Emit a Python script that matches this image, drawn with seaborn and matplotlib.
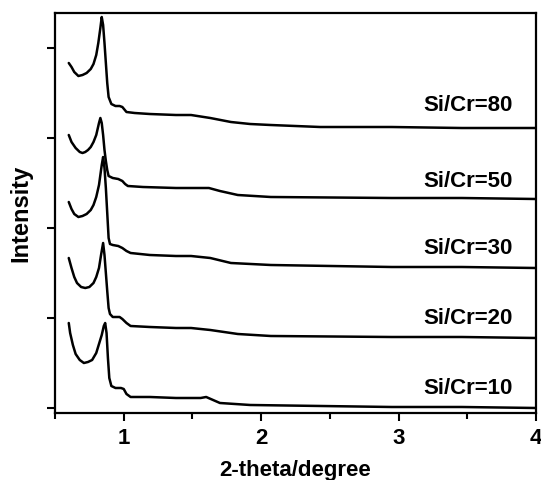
import pandas as pd
import matplotlib
matplotlib.use("Agg")
import matplotlib.pyplot as plt
import seaborn as sns

# XRD patterns (low-angle) for Cr-containing samples, offset stacked
samples = ["Si/Cr=80", "Si/Cr=50", "Si/Cr=30", "Si/Cr=20", "Si/Cr=10"]

x_80 = [0.60, 0.62, 0.64, 0.67, 0.70, 0.73, 0.76, 0.78, 0.80, 0.815, 0.83, 0.84, 0.85, 0.86,
        0.87, 0.88, 0.89, 0.91, 0.94, 0.97, 0.99, 1.02, 1.08, 1.19, 1.38, 1.49, 1.63, 1.78,
        1.92, 2.07, 2.43, 2.95, 3.46, 4.00]
y_80 = [350, 346, 341, 337, 338, 340, 344, 349, 358, 370, 385, 396, 388, 370,
        350, 330, 316, 309, 307, 307, 306, 301, 300, 299, 298, 298, 295, 291,
        289, 288, 286, 286, 285, 285]

x_50 = [0.60, 0.62, 0.65, 0.68, 0.70, 0.72, 0.74, 0.76, 0.78, 0.80, 0.81, 0.82, 0.83, 0.84,
        0.85, 0.86, 0.87, 0.88, 0.89, 0.92, 0.96, 0.99, 1.01, 1.03, 1.14, 1.38, 1.62, 1.70,
        1.83, 2.07, 2.95, 3.46, 4.00]
y_50 = [278, 271, 265, 261, 260, 261, 263, 266, 271, 278, 284, 290, 295, 290,
        278, 263, 252, 243, 237, 235, 234, 232, 229, 227, 226, 225, 225, 222,
        218, 216, 215, 215, 214]

x_30 = [0.60, 0.62, 0.64, 0.67, 0.70, 0.73, 0.76, 0.78, 0.80, 0.82, 0.83, 0.84, 0.85, 0.86,
        0.87, 0.88, 0.89, 0.90, 0.92, 0.96, 0.99, 1.02, 1.05, 1.19, 1.38, 1.49, 1.63, 1.78,
        2.07, 2.51, 2.95, 3.46, 4.00]
y_30 = [211, 204, 199, 196, 197, 199, 203, 208, 216, 228, 238, 248, 256, 245,
        225, 200, 175, 169, 168, 167, 165, 162, 160, 158, 157, 157, 155, 150,
        148, 147, 146, 146, 145]

x_20 = [0.60, 0.62, 0.64, 0.66, 0.69, 0.72, 0.75, 0.78, 0.80, 0.82, 0.835, 0.85, 0.86, 0.87,
        0.88, 0.89, 0.90, 0.92, 0.97, 0.99, 1.02, 1.05, 1.19, 1.38, 1.49, 1.63, 1.83, 2.07,
        2.95, 3.46, 4.00]
y_20 = [155, 145, 136, 130, 126, 125, 126, 130, 136, 145, 158, 170, 158, 140,
        122, 105, 99, 96, 96, 94, 90, 87, 86, 85, 85, 83, 79, 77,
        76, 76, 75]

x_10 = [0.60, 0.61, 0.63, 0.65, 0.68, 0.71, 0.74, 0.77, 0.80, 0.82, 0.84, 0.855, 0.865, 0.875,
        0.885, 0.895, 0.91, 0.94, 0.98, 1.00, 1.02, 1.05, 1.19, 1.38, 1.56, 1.60, 1.70, 1.92,
        2.95, 3.46, 4.00]
y_10 = [90, 80, 68, 59, 53, 50, 51, 53, 60, 69, 78, 87, 90, 80,
        55, 35, 27, 25, 25, 24, 19, 16, 16, 15, 15, 16, 10, 8,
        6, 6, 5]

# label anchors (right edge x, centre y) in data units
label_x = 3.83
label_y = [308, 232, 164, 94, 24]

x_ticks = [1, 2, 3, 4]
y_ticks = [5, 95, 185, 275, 365]

#build long-form table for seaborn
frames = []
for name, xs, ys in zip(samples, [x_80, x_50, x_30, x_20, x_10], [y_80, y_50, y_30, y_20, y_10]):
    frames.append(pd.DataFrame({"two_theta": xs, "intensity": ys, "sample": name}))
df = pd.concat(frames, ignore_index=True)

sns.set_style("ticks", {"axes.edgecolor": "black", "text.color": "black",
                        "xtick.color": "black", "ytick.color": "black",
                        "axes.labelcolor": "black"})
plt.rcParams["font.family"] = ["Liberation Sans", "DejaVu Sans"]
plt.rcParams["font.weight"] = "bold"

fig = plt.figure(figsize=(5.41, 4.80), dpi=100)
ax = fig.add_axes([0.1017, 0.1396, 0.889, 0.8333])

sns.lineplot(data=df, x="two_theta", y="intensity", hue="sample", units="sample",
             estimator=None, sort=False, palette=["black"] * len(samples),
             linewidth=1.8, legend=False, ax=ax)

for name, ly in zip(samples, label_y):
    ax.text(label_x, ly, name, ha="right", va="center", fontsize=16,
            fontweight="bold", color="black")

ax.set_xlim(0.5, 4.0)
ax.set_ylim(0, 400)
ax.set_xticks(x_ticks)
ax.set_xticks([0.5, 1.5, 2.5, 3.5], minor=True)
ax.set_yticks(y_ticks)
ax.set_yticklabels([])
ax.tick_params(axis="x", which="major", direction="out", length=6, width=1.5,
               labelsize=16, pad=5, colors="black")
ax.tick_params(axis="x", which="minor", direction="out", length=4, width=1.5, colors="black")
ax.tick_params(axis="y", which="major", direction="out", length=6, width=1.5, colors="black")
for lbl in ax.get_xticklabels():
    lbl.set_fontweight("bold")
for s in ax.spines.values():
    s.set_linewidth(1.6)
    s.set_color("black")
    s.set_visible(True)

ax.set_xlabel("2-theta/degree", fontsize=16, fontweight="bold", labelpad=8, color="black")
ax.set_ylabel("Intensity", fontsize=17, fontweight="bold", labelpad=7, color="black")

fig.savefig("out.png", dpi=100)
